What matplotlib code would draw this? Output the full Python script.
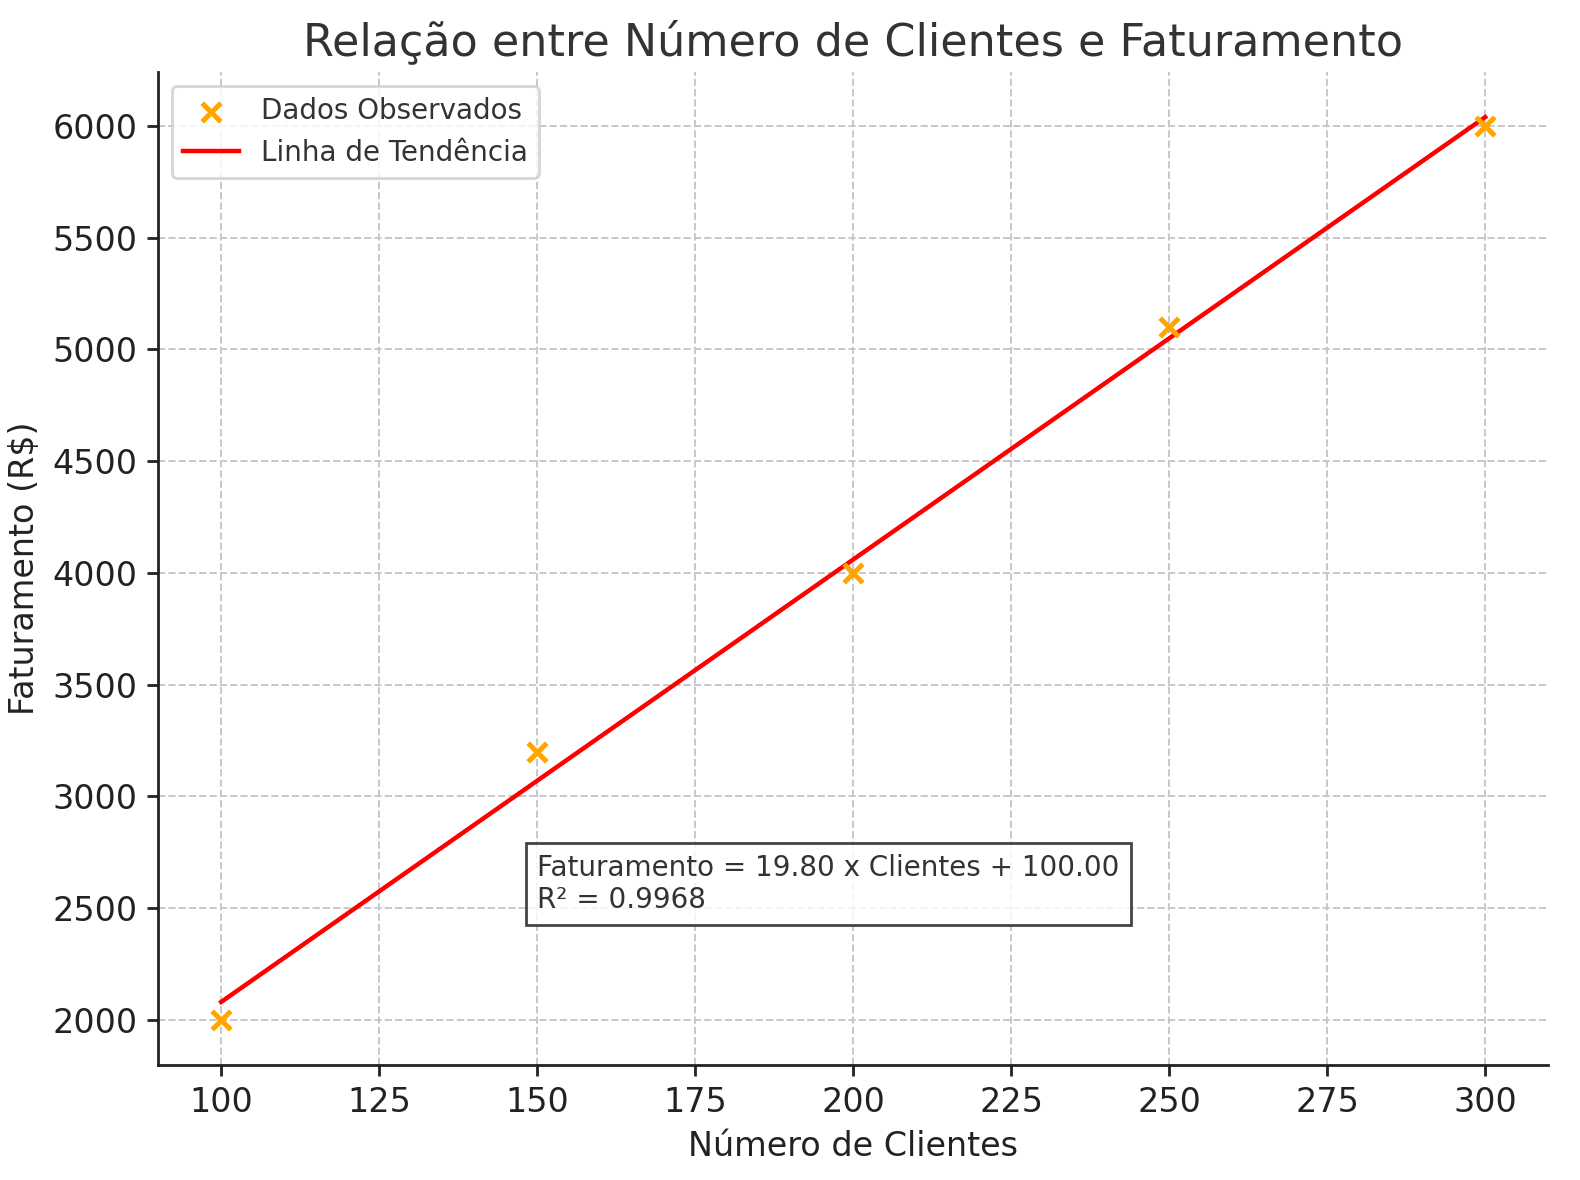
import numpy as np
import matplotlib
matplotlib.use("Agg")
import matplotlib.pyplot as plt

clientes = [100, 150, 200, 250, 300]
faturamento = [2000, 3200, 4000, 5100, 6000]

title = "Relação entre Número de Clientes e Faturamento"
xlabel = "Número de Clientes"
ylabel = "Faturamento (R$)"

x = np.array(clientes, dtype=float)
y = np.array(faturamento, dtype=float)
slope, intercept = np.polyfit(x, y, 1)
pred = slope * x + intercept
r2 = 1 - np.sum((y - pred) ** 2) / np.sum((y - y.mean()) ** 2)

plt.rcParams['font.family'] = ['DejaVu Sans']
fig = plt.figure(figsize=(7.9, 5.9), dpi=200)
ax = fig.add_axes([0.1, 0.0975, 0.88, 0.8415])

ax.scatter(x, y, marker='x', color='orange', s=45, linewidths=1.8, label='Dados Observados', zorder=3)
ax.plot(x, pred, color='red', lw=1.6, label='Linha de Tendência', zorder=2)

ax.grid(True, linestyle='--', color='#c8c8c8', lw=0.7)
ax.set_axisbelow(True)
for s in ['top', 'right']:
    ax.spines[s].set_visible(False)
for s in ['left', 'bottom']:
    ax.spines[s].set_color('#222222')
    ax.spines[s].set_linewidth(1.0)
ax.tick_params(axis='both', labelsize=12, colors='#222222', length=4, width=1.0)

ax.set_title(title, fontsize=16, color='#333333')
ax.set_xlabel(xlabel, fontsize=12, color='#222222')
ax.set_ylabel(ylabel, fontsize=12, color='#222222')

ax.text(150, 2500, f"Faturamento = {slope:.2f} x Clientes + {intercept:.2f}\nR² = {r2:.4f}",
        fontsize=10, color='#333333',
        bbox=dict(facecolor=(1, 1, 1, 0.8), edgecolor='#444444', linewidth=1.0,
                  boxstyle='square,pad=0.4'))

leg = ax.legend(loc='upper left', fontsize=10, frameon=True, fancybox=True)
leg.get_frame().set_edgecolor('#cccccc')
for t in leg.get_texts():
    t.set_color('#333333')

fig.savefig('out.png', dpi=200)
